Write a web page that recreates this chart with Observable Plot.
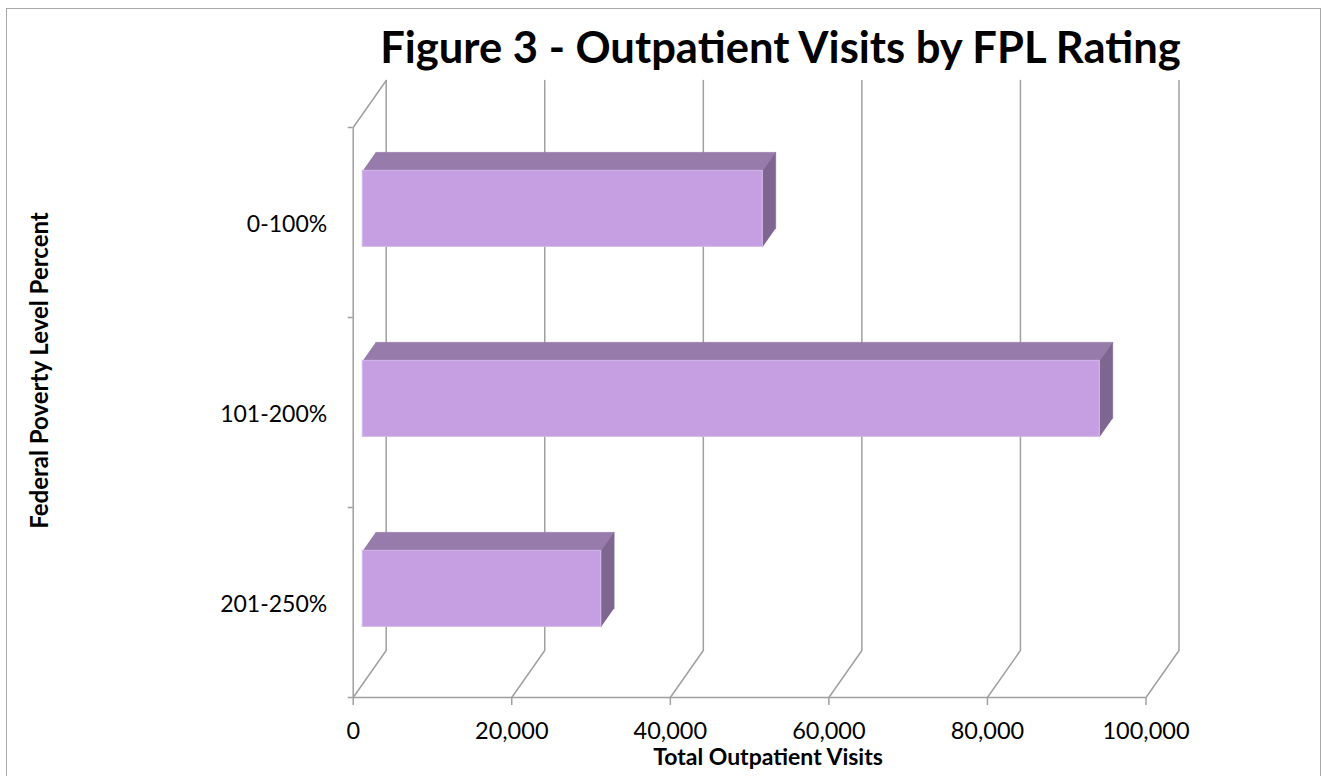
<!DOCTYPE html>
<html>
<head>
<meta charset="utf-8">
<script src="https://cdn.jsdelivr.net/npm/d3@7"></script>
<script src="https://cdn.jsdelivr.net/npm/@observablehq/plot@0.6"></script>
<style>
  html, body { margin: 0; padding: 0; background: #fff; overflow: hidden; }
  #wrap { position: relative; width: 1323px; height: 776px; overflow: hidden; font-family: Lato, "Open Sans", sans-serif; }
  #frame { position: absolute; left: 6px; top: 8px; width: 1315px; height: 800px; border: 1.5px solid #a9a9a9; box-sizing: border-box; pointer-events: none; }
  #title { height: 73px; box-sizing: border-box; padding-left: 238px; text-align: center; font-weight: bold; color: #000; line-height: 1; white-space: nowrap; }
  #chart svg { display: block; overflow: visible; }
</style>
</head>
<body>
<div id="wrap">
  <div id="title">Figure 3 - Outpatient Visits by FPL Rating</div>
  <div id="chart"></div>
  <div id="frame"></div>
</div>
<script>
// ---- data ----
const categories = ["0-100%", "101-200%", "201-250%"];
const visits = [50450, 92960, 30070];
const xTicks = [0, 20000, 40000, 60000, 80000, 100000];
const xTitle = "Total Outpatient Visits";
const yTitle = "Federal Poverty Level Percent";

// ---- fit title ----
const titleEl = document.getElementById("title");
(function fitTitle() {
  const c = document.createElement("canvas").getContext("2d");
  c.font = "bold 40px Lato";
  const w = c.measureText(titleEl.textContent).width;
  const fs = 40 * 805 / w;
  titleEl.style.fontSize = fs + "px";
  titleEl.style.paddingTop = (64 - 0.887 * fs) + "px";
})();

// ---- 3D projection helpers (in data units) ----
const nCat = categories.length;
const DX = 4162;      // depth in x units
const DY = 0.2474;    // depth in y units
const F = 0.29, B = 0.684; // bar front/back depth fractions
const H = 0.4;        // bar thickness in category units
const center = i => nCat - i - 0.5;

const bars = categories.map((c, i) => ({cat: c, v: visits[i], c: center(i)}));

// gridline polylines (floor diagonal + back wall vertical)
const grid = [];
xTicks.forEach(t => {
  grid.push({k: "g" + t, x: t, y: 0});
  grid.push({k: "g" + t, x: t + DX, y: DY});
  grid.push({k: "g" + t, x: t + DX, y: nCat + DY});
});
// left side wall front edge + top
grid.push({k: "wall", x: 0, y: 0});
grid.push({k: "wall", x: 0, y: nCat});
grid.push({k: "wall", x: DX, y: nCat + DY});

// bar faces
const topFaces = [], sideFaces = [];
bars.forEach(b => {
  const top = b.c + H / 2, bot = b.c - H / 2;
  topFaces.push({k: b.cat, x: F * DX, y: top + F * DY});
  topFaces.push({k: b.cat, x: b.v + F * DX, y: top + F * DY});
  topFaces.push({k: b.cat, x: b.v + B * DX, y: top + B * DY});
  topFaces.push({k: b.cat, x: B * DX, y: top + B * DY});
  sideFaces.push({k: b.cat, x: b.v + F * DX, y: bot + F * DY});
  sideFaces.push({k: b.cat, x: b.v + F * DX, y: top + F * DY});
  sideFaces.push({k: b.cat, x: b.v + B * DX, y: top + B * DY});
  sideFaces.push({k: b.cat, x: b.v + B * DX, y: bot + B * DY});
});

const gridColor = "#a0a0a0";

const chart = Plot.plot({
  width: 1323,
  height: 703,
  marginLeft: 352.7,
  marginRight: 177.5,
  marginTop: 54,
  marginBottom: 79,
  style: {fontFamily: "Lato, 'Open Sans', sans-serif", fontSize: "23px", color: "#000", background: "transparent", overflow: "visible"},
  x: {domain: [0, 100000]},
  y: {domain: [0, nCat]},
  marks: [
    Plot.line(grid, {x: "x", y: "y", z: "k", stroke: gridColor, strokeWidth: 1.5, curve: "linear"}),
    Plot.ruleY([0], {x1: 0, x2: 100000, stroke: gridColor, strokeWidth: 1.5}),
    Plot.axisX({ticks: xTicks, tickSize: 8, tickPadding: 17, tickFormat: d3.format(","), stroke: gridColor, strokeWidth: 1.5, fontSize: 23.5, label: null}),
    Plot.axisY({ticks: d3.range(nCat + 1), tickSize: 5, tickFormat: () => "", stroke: gridColor, strokeWidth: 1.5, label: null}),
    Plot.axisY({ticks: bars.map(b => b.c), tickSize: 0, tickPadding: 26, tickFormat: d => categories[nCat - 0.5 - d], fontSize: 23, dy: 2, label: null}),
    // bars
    Plot.line(topFaces, {x: "x", y: "y", z: "k", fill: "#967bab", stroke: "#967bab", strokeWidth: 0.5}),
    Plot.line(sideFaces, {x: "x", y: "y", z: "k", fill: "#7f6691", stroke: "#7f6691", strokeWidth: 0.5}),
    Plot.rect(bars, {
      x1: () => F * DX,
      x2: d => d.v + F * DX,
      y1: d => d.c - H / 2 + F * DY,
      y2: d => d.c + H / 2 + F * DY,
      fill: "#c59fe2", stroke: "#d3b6ec", strokeWidth: 1
    }),
    // axis titles
    Plot.text([xTitle], {text: d => d, frameAnchor: "bottom", textAnchor: "middle", lineAnchor: "middle", dx: 18.4, dy: 60, fontWeight: "bold", fontSize: 23, fill: "#000"}),
    Plot.text([yTitle], {text: d => d, frameAnchor: "left", textAnchor: "middle", lineAnchor: "middle", rotate: -90, dx: -312.7, dy: -42, fontWeight: "bold", fontSize: 24, fill: "#000"})
  ]
});
document.getElementById("chart").appendChild(chart);
</script>
</body>
</html>
